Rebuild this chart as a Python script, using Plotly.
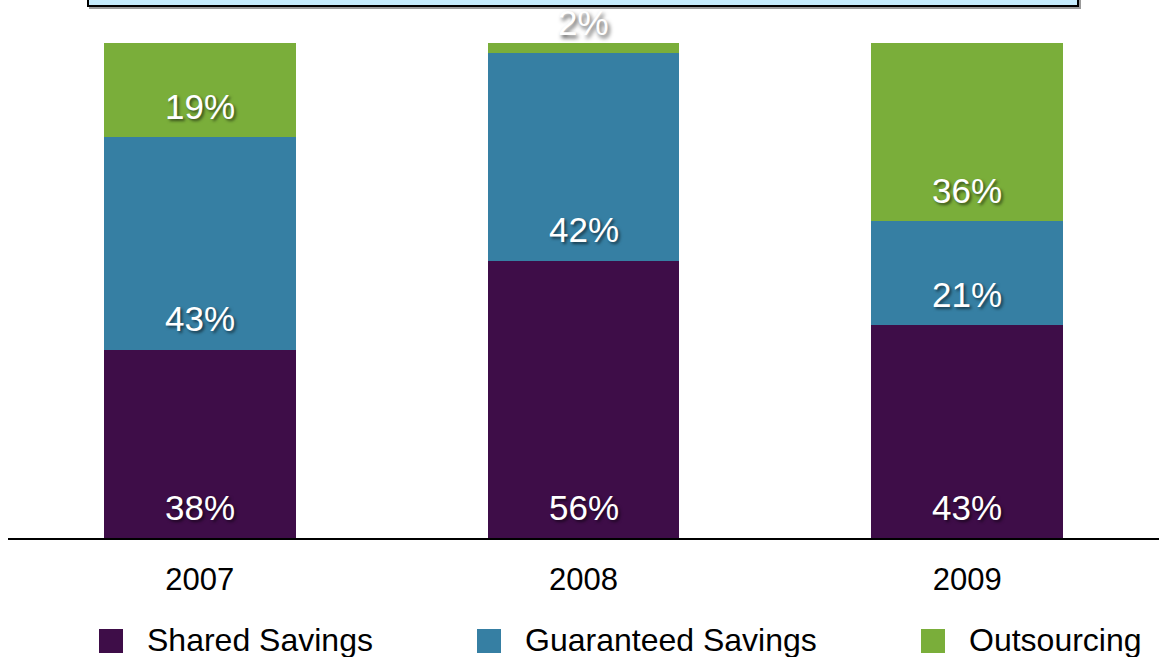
import plotly.graph_objects as go

# Share of contract types by year (percent of projects)
years = ["2007", "2008", "2009"]
series_names = ["Shared Savings", "Guaranteed Savings", "Outsourcing"]
shared_savings = [38, 56, 43]
guaranteed_savings = [43, 42, 21]
outsourcing = [19, 2, 36]

colors = ["#3E0D48", "#367FA3", "#7AAE3A"]
series_values = [shared_savings, guaranteed_savings, outsourcing]

FONT = "Liberation Sans"
W, H = 1159, 657
M_L, M_R, M_T, M_B = 8, 0, 43, 119
PLOT_W = W - M_L - M_R
PLOT_H = H - M_T - M_B


def px_x(px):
    return (px - M_L) / PLOT_W


def px_y(py):
    return (H - M_B - py) / PLOT_H


fig = go.Figure()
for name, vals, col in zip(series_names, series_values, colors):
    fig.add_trace(go.Bar(
        x=years, y=vals, name=name, marker=dict(color=col, line=dict(width=0)),
        showlegend=False, hoverinfo="skip",
    ))

# Value labels near the base of each segment; tiny segments get theirs above
annotations = []
for i, year in enumerate(years):
    base = 0
    for vals in series_values:
        v = vals[i]
        inside = v >= 8
        annotations.append(dict(
            x=i, y=base if inside else base + v, xref="x", yref="y",
            text=f"{v}%", showarrow=False,
            yanchor="middle", yshift=31 if inside else 21,
            font=dict(family=FONT, size=35, color="white",
                      shadow=("2px 2px 3px rgba(0,0,0,0.55)" if inside
                              else "2px 3px 4px rgba(0,0,0,0.7)")),
        ))
        base += v

# Legend drawn as swatches and captions along the bottom
legend_swatch_left = [99, 477, 921]
legend_y = 640
shapes = []
for name, col, left in zip(series_names, colors, legend_swatch_left):
    shapes.append(dict(
        type="rect", xref="paper", yref="paper",
        x0=px_x(left), x1=px_x(left + 24),
        y0=px_y(legend_y + 13), y1=px_y(legend_y - 11),
        fillcolor=col, line=dict(width=0),
    ))
    annotations.append(dict(
        x=px_x(left + 46), y=px_y(legend_y), xref="paper", yref="paper",
        text=name, showarrow=False, xanchor="left", yanchor="middle",
        font=dict(family=FONT, size=32, color="black"),
    ))

# Title box across the top edge, with a soft drop shadow
shapes.append(dict(
    type="rect", xref="paper", yref="paper",
    x0=px_x(89), x1=px_x(1081), y0=px_y(9), y1=px_y(-40),
    fillcolor="#9A9A9A", line=dict(width=0), layer="above",
))
shapes.append(dict(
    type="rect", xref="paper", yref="paper",
    x0=px_x(88), x1=px_x(1078), y0=px_y(6), y1=px_y(-40),
    fillcolor="#C6ECFD", line=dict(color="black", width=2), layer="above",
))

fig.update_layout(
    width=W, height=H,
    margin=dict(l=M_L, r=M_R, t=M_T, b=M_B),
    barmode="stack", bargap=0.5,
    plot_bgcolor="white", paper_bgcolor="white",
    font=dict(family=FONT, color="black"),
    showlegend=False,
    annotations=annotations,
    shapes=shapes,
    xaxis=dict(
        type="category",
        range=[-0.5, 2.5], showline=True, linecolor="black", linewidth=2,
        showgrid=False, zeroline=False, ticks="",
        tickfont=dict(family=FONT, size=31, color="black"),
        ticklabelstandoff=13,
    ),
    yaxis=dict(range=[0, 100], visible=False, showgrid=False, zeroline=False),
)

fig.write_html("out.html")
